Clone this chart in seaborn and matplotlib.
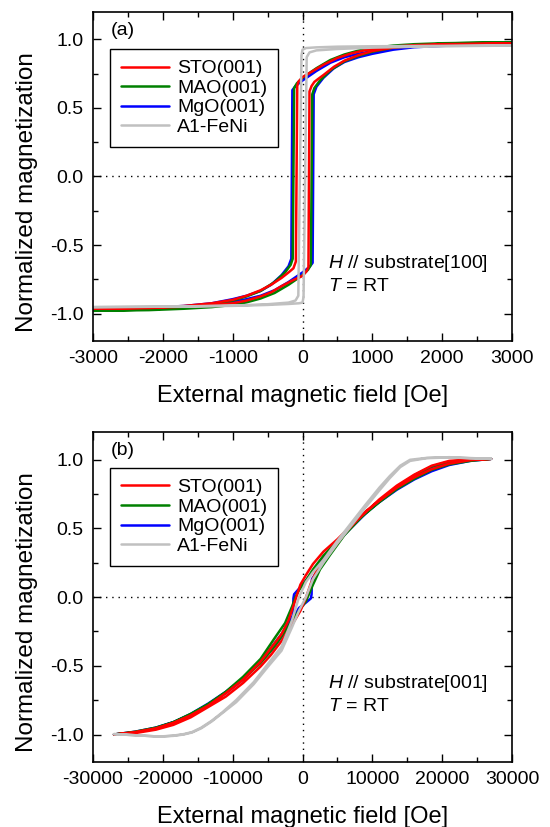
import pandas as pd
import matplotlib
matplotlib.use('Agg')
import matplotlib.pyplot as plt
import seaborn as sns
from matplotlib.ticker import MultipleLocator

# ---- panel (a): H // substrate[100], field in Oe ----
sto_a_h_down = [3000, 2500, 2000, 1600, 1300, 1100, 900, 700, 500, 300, 150, 0,
                -60, -75, -95, -130, -200, -300, -450, -600, -800, -1000, -1300, -1700, -2200, -3000]
sto_a_m_down = [0.970, 0.968, 0.965, 0.958, 0.948, 0.938, 0.922, 0.898, 0.865, 0.815, 0.770, 0.725,
                0.69, 0.66, -0.62, -0.67, -0.70, -0.74, -0.79, -0.83, -0.87, -0.90, -0.925, -0.945, -0.957, -0.965]
sto_a_h_up = [-3000, -2200, -1700, -1300, -1000, -800, -600, -450, -300, -150, 0, 60, 85,
              100, 130, 170, 220, 300, 450, 600, 800, 1000, 1300, 1600, 2000, 2500, 3000]
sto_a_m_up = [-0.965, -0.96, -0.95, -0.94, -0.925, -0.905, -0.875, -0.845, -0.80, -0.76, -0.725, -0.69, -0.66,
              0.62, 0.66, 0.69, 0.71, 0.74, 0.80, 0.845, 0.885, 0.915, 0.94, 0.952, 0.962, 0.966, 0.970]

mao_a_h_down = [3000, 2500, 2000, 1600, 1300, 1000, 800, 600, 400, 200, 0, -80,
                -120, -140, -170, -250, -400, -600, -800, -1000, -1300, -1700, -2200, -3000]
mao_a_m_down = [0.978, 0.976, 0.972, 0.965, 0.955, 0.937, 0.918, 0.89, 0.85, 0.79, 0.72, 0.68,
                0.645, -0.60, -0.645, -0.70, -0.77, -0.835, -0.875, -0.905, -0.935, -0.955, -0.97, -0.98]
mao_a_h_up = [-3000, -2200, -1700, -1300, -1000, -800, -600, -400, -200, 0, 80, 120,
              140, 170, 250, 400, 600, 800, 1000, 1300, 1700, 2200, 3000]
mao_a_m_up = [-0.98, -0.975, -0.965, -0.953, -0.937, -0.918, -0.89, -0.85, -0.79, -0.72, -0.68, -0.645,
              0.60, 0.645, 0.70, 0.775, 0.84, 0.88, 0.91, 0.94, 0.96, 0.972, 0.978]

mgo_a_h_down = [3000, 2500, 2000, 1600, 1300, 1000, 800, 600, 400, 200, 0, -100,
                -145, -160, -200, -300, -450, -600, -800, -1000, -1300, -1700, -2200, -3000]
mgo_a_m_down = [0.965, 0.962, 0.957, 0.948, 0.935, 0.915, 0.895, 0.87, 0.83, 0.77, 0.70, 0.66,
                0.63, -0.60, -0.655, -0.72, -0.79, -0.835, -0.87, -0.895, -0.925, -0.945, -0.955, -0.962]
mgo_a_h_up = [-3000, -2200, -1700, -1300, -1000, -800, -600, -400, -200, 0, 100, 145,
              160, 200, 300, 450, 600, 800, 1000, 1300, 1600, 2000, 2500, 3000]
mgo_a_m_up = [-0.962, -0.958, -0.95, -0.935, -0.915, -0.895, -0.87, -0.83, -0.77, -0.70, -0.66, -0.63,
              0.60, 0.655, 0.72, 0.79, 0.835, 0.87, 0.895, 0.925, 0.943, 0.953, 0.96, 0.965]

feni_a_h_down = [3000, 2000, 1000, 500, 200, 50, 0, -15, -60, -100, -200, -500, -1000, -2000, -3000]
feni_a_m_down = [0.955, 0.953, 0.95, 0.947, 0.942, 0.937, 0.925, 0.88, -0.87, -0.905, -0.92, -0.932, -0.942, -0.95, -0.953]
feni_a_h_up = [-3000, -2000, -1000, -500, -200, -50, 0, 15, 60, 100, 200, 500, 1000, 2000, 3000]
feni_a_m_up = [-0.953, -0.95, -0.944, -0.937, -0.93, -0.925, -0.92, -0.88, 0.87, 0.905, 0.92, 0.93, 0.94, 0.95, 0.955]

# ---- panel (b): H // substrate[001], field in Oe ----
sto_b_h_down = [27000, 24000, 21000, 18500, 16000, 13500, 11000, 9000, 7000, 5000, 3000, 1500, 500, -300,
                -700, -1200, -2000, -3000, -4500, -6000, -8500, -11000, -13500, -16000, -18500, -21000, -24000, -27000]
sto_b_m_down = [1.005, 1.0, 0.99, 0.955, 0.89, 0.81, 0.71, 0.615, 0.52, 0.42, 0.33, 0.24, 0.16, 0.09,
                0.03, -0.05, -0.17, -0.27, -0.37, -0.47, -0.60, -0.70, -0.79, -0.86, -0.915, -0.955, -0.982, -1.0]
sto_b_h_up = [-27000, -24000, -21000, -18500, -16000, -13500, -11000, -8500, -6000, -4500, -3000, -2000, -1000, -300,
              300, 800, 1200, 2000, 3000, 4500, 6000, 8500, 11000, 13500, 16000, 18500, 21000, 24000, 27000]
sto_b_m_up = [-1.0, -0.99, -0.965, -0.93, -0.875, -0.80, -0.725, -0.625, -0.505, -0.42, -0.32, -0.24, -0.16, -0.10,
              -0.03, 0.04, 0.10, 0.19, 0.27, 0.36, 0.46, 0.60, 0.70, 0.795, 0.87, 0.93, 0.97, 0.995, 1.005]

mao_b_h_down = [27000, 24000, 21000, 18500, 16000, 13500, 11000, 9000, 7000, 5000, 3000, 1500, 500, -500,
                -1000, -1500, -2500, -4000, -6000, -8500, -11000, -13500, -16000, -18500, -21000, -24000, -27000]
mao_b_m_down = [1.005, 0.998, 0.985, 0.95, 0.885, 0.80, 0.70, 0.61, 0.51, 0.41, 0.30, 0.20, 0.12, 0.05,
                0.0, -0.07, -0.19, -0.30, -0.45, -0.58, -0.69, -0.78, -0.85, -0.91, -0.95, -0.98, -1.0]
mao_b_h_up = [-27000, -24000, -21000, -18500, -16000, -13500, -11000, -8500, -6000, -4000, -2500, -1500, -500,
              500, 1000, 1500, 2500, 4000, 6000, 8500, 11000, 13500, 16000, 18500, 21000, 24000, 27000]
mao_b_m_up = [-1.0, -0.985, -0.955, -0.915, -0.855, -0.78, -0.695, -0.595, -0.48, -0.36, -0.25, -0.17, -0.10,
              -0.03, 0.03, 0.09, 0.20, 0.31, 0.45, 0.585, 0.69, 0.785, 0.86, 0.925, 0.965, 0.99, 1.005]

mgo_b_h_down = [27000, 24000, 21000, 18500, 16000, 13500, 11000, 9000, 7000, 5000, 3000, 1500, 500, -500, -1200,
                -1300, -1350, -2000, -3000, -4500, -6000, -8500, -11000, -13500, -16000, -18500, -21000, -24000, -27000]
mgo_b_m_down = [1.005, 0.997, 0.983, 0.945, 0.88, 0.795, 0.695, 0.605, 0.505, 0.405, 0.29, 0.19, 0.12, 0.06, 0.02,
                -0.01, -0.13, -0.19, -0.27, -0.37, -0.47, -0.60, -0.70, -0.785, -0.855, -0.91, -0.95, -0.98, -1.0]
mgo_b_h_up = [-27000, -24000, -21000, -18500, -16000, -13500, -11000, -8500, -6000, -4500, -3000, -2000, -1300, -500, 500,
              1200, 1300, 1350, 2000, 3000, 4500, 6000, 8500, 11000, 13500, 16000, 18500, 21000, 24000, 27000]
mgo_b_m_up = [-1.0, -0.985, -0.953, -0.912, -0.85, -0.775, -0.69, -0.59, -0.475, -0.39, -0.29, -0.21, -0.15, -0.08, -0.04,
              -0.01, 0.02, 0.13, 0.18, 0.26, 0.36, 0.455, 0.59, 0.69, 0.78, 0.855, 0.915, 0.96, 0.99, 1.005]

feni_b_h_down = [27000, 24000, 21000, 17800, 15400, 14000, 12500, 11000, 9000, 7000, 5000, 3000, 1500, 500, -500,
                 -1500, -3000, -5000, -7000, -9500, -11500, -13000, -14500, -15800, -17000, -18500, -20500, -23000, -27000]
feni_b_m_down = [1.007, 1.01, 1.017, 1.012, 0.998, 0.955, 0.88, 0.795, 0.67, 0.54, 0.41, 0.27, 0.18, 0.11, 0.0,
                 -0.17, -0.36, -0.49, -0.62, -0.75, -0.84, -0.90, -0.95, -0.982, -0.997, -1.008, -1.015, -1.008, -0.997]
feni_b_h_up = [-27000, -23000, -20500, -18500, -17000, -15800, -14500, -13000, -11500, -9500, -7000, -5000, -3000, -1500, -500,
               500, 1500, 3000, 5000, 7000, 9000, 11000, 12500, 14000, 15400, 17800, 21000, 24000, 27000]
feni_b_m_up = [-0.997, -1.008, -1.015, -1.01, -1.0, -0.985, -0.955, -0.905, -0.845, -0.765, -0.635, -0.51, -0.39, -0.22, -0.10,
               0.0, 0.13, 0.25, 0.39, 0.52, 0.65, 0.775, 0.865, 0.945, 0.99, 1.01, 1.015, 1.01, 1.007]

labels = ['STO(001)', 'MAO(001)', 'MgO(001)', 'A1-FeNi']
colors = ['#ff0000', '#008000', '#0000ff', '#c0c0c0']
draw_order = [2, 1, 0, 3]   # blue under green under red, grey on top


def loop_frame(h_down, m_down, h_up, m_up, name):
    # one closed hysteresis path: descending branch then ascending branch
    return pd.DataFrame({'H': h_down + h_up, 'M': m_down + m_up, 'sample': name})


def draw_panel(ax, loops, xmax, xstep, tag, direction, legend_top):
    ax.axhline(0, color='black', lw=1.0, ls=(0, (1, 3.5)), zorder=1)
    ax.axvline(0, color='black', lw=1.0, ls=(0, (1, 3.5)), zorder=1)
    for i in draw_order:
        sns.lineplot(data=loops[i], x='H', y='M', sort=False, estimator=None,
                     color=colors[i], lw=1.8, label=labels[i], ax=ax)

    handles, labs = ax.get_legend_handles_labels()
    by_label = dict(zip(labs, handles))
    leg = ax.legend([by_label[l] for l in labels], labels, loc='upper left',
                    bbox_to_anchor=(0.041, legend_top), borderaxespad=0,
                    frameon=True, fancybox=False, edgecolor='black', framealpha=1,
                    fontsize=14, handlelength=2.5, handletextpad=0.4,
                    labelspacing=0.1, borderpad=0.55)
    leg.get_frame().set_linewidth(1.0)

    ax.set_xlim(-xmax, xmax)
    ax.set_ylim(-1.2, 1.2)
    ax.xaxis.set_major_locator(MultipleLocator(xstep))
    ax.xaxis.set_minor_locator(MultipleLocator(xstep / 2))
    ax.yaxis.set_major_locator(MultipleLocator(0.5))
    ax.yaxis.set_minor_locator(MultipleLocator(0.25))
    ax.tick_params(which='both', direction='in', top=True, right=True,
                   width=1.0, color='black', labelcolor='black', labelsize=14)
    ax.tick_params(which='major', length=6)
    ax.tick_params(which='minor', length=3.5)
    ax.tick_params(axis='x', pad=6.5)
    ax.tick_params(axis='y', pad=7)
    for sp in ax.spines.values():
        sp.set_linewidth(1.2)
        sp.set_color('black')

    ax.set_xlabel('External magnetic field [Oe]', fontsize=17, va='center', color='black')
    ax.xaxis.set_label_coords(0.5, -0.167)
    ax.set_ylabel('Normalized magnetization', fontsize=17.5, va='center', color='black')
    ax.yaxis.set_label_coords(-0.158, 0.453)

    ax.text(0.042, 0.943, tag, transform=ax.transAxes, fontsize=14, va='center')
    ax.text(0.561, 0.237, r'$\mathit{H}$ // substrate[' + direction + ']',
            transform=ax.transAxes, fontsize=14, va='center')
    ax.text(0.561, 0.167, r'$\mathit{T}$ = RT', transform=ax.transAxes,
            fontsize=14, va='center')


sns.set_style('ticks')
plt.rcParams['font.family'] = ['Liberation Sans', 'DejaVu Sans']
plt.rcParams['text.color'] = 'black'
plt.rcParams['axes.labelcolor'] = 'black'
plt.rcParams['axes.unicode_minus'] = False
plt.rcParams['mathtext.fontset'] = 'custom'
plt.rcParams['mathtext.rm'] = 'Liberation Sans'
plt.rcParams['mathtext.it'] = 'Liberation Sans:italic'

loops_a = [loop_frame(sto_a_h_down, sto_a_m_down, sto_a_h_up, sto_a_m_up, labels[0]),
           loop_frame(mao_a_h_down, mao_a_m_down, mao_a_h_up, mao_a_m_up, labels[1]),
           loop_frame(mgo_a_h_down, mgo_a_m_down, mgo_a_h_up, mgo_a_m_up, labels[2]),
           loop_frame(feni_a_h_down, feni_a_m_down, feni_a_h_up, feni_a_m_up, labels[3])]
loops_b = [loop_frame(sto_b_h_down, sto_b_m_down, sto_b_h_up, sto_b_m_up, labels[0]),
           loop_frame(mao_b_h_down, mao_b_m_down, mao_b_h_up, mao_b_m_up, labels[1]),
           loop_frame(mgo_b_h_down, mgo_b_m_down, mgo_b_h_up, mgo_b_m_up, labels[2]),
           loop_frame(feni_b_h_down, feni_b_m_down, feni_b_h_up, feni_b_m_up, labels[3])]

fig = plt.figure(figsize=(5.5, 8.27), dpi=100)
ax_a = fig.add_axes([0.1691, 0.5877, 0.7618, 0.3978])
ax_b = fig.add_axes([0.1691, 0.0786, 0.7618, 0.3990])

draw_panel(ax_a, loops_a, 3000, 1000, '(a)', '100', 0.8875)
draw_panel(ax_b, loops_b, 30000, 10000, '(b)', '001', 0.891)

fig.savefig('out.png', dpi=100)
